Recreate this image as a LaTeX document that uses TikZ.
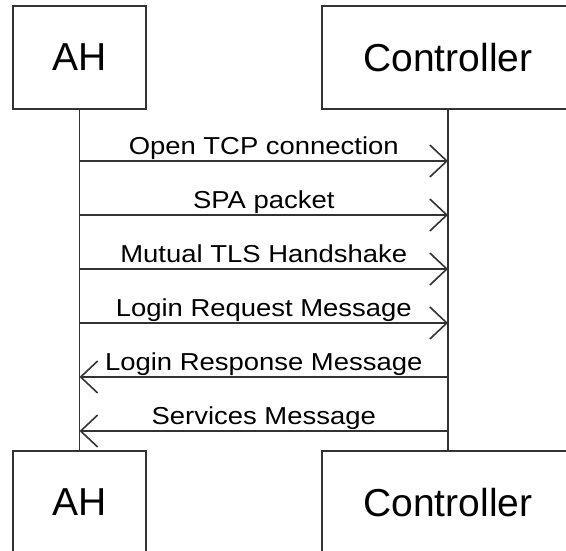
\documentclass[tikz,border=0pt]{standalone}
\usepackage{fontspec}
\setmainfont{Liberation Sans}
\newfontfamily\msgfont[FakeStretch=1.12]{Liberation Sans}
\usetikzlibrary{positioning}
\usetikzlibrary{arrows.meta}
\definecolor{linegrey}{HTML}{333333}
\tikzset{
    % An open barbed head, much like the one the chart tool draws
    >={Straight Barb[length=17pt, width=32pt]},
%
    % Box standing at either end of a lifeline
    actor box/.style={
        draw=linegrey, line width=1.6pt, rectangle,
        minimum height=103pt, font=\fontsize{39}{47}\selectfont},
%
    % Vertical line below an actor
    lifeline/.style={draw=linegrey, line width=1.6pt},
%
    % A single message passed between the two actors
    message/.style={draw=linegrey, line width=1.6pt, ->},
    % Text sitting just above a message
    message label/.style={anchor=base, inner sep=0pt, yshift=7pt,
        font=\msgfont\fontsize{24.5}{30}\selectfont}}

\begin{document}
\begin{tikzpicture}[x=1pt, y=-1pt]

\path [use as bounding box] (0,0) rectangle (566,550);
\clip (0,0) rectangle (566,550);

\node (ah) [actor box, minimum width=133pt] at (79.5,57.5) {AH};
\node (ctl) [actor box, minimum width=252pt] at (448,57.5) {Controller};
\node (ahend) [actor box, minimum width=133pt] at (79.5,502.5) {AH};
\node (ctlend) [actor box, minimum width=252pt] at (448,502.5) {Controller};

\draw [lifeline] (ah) -- (ahend);
\draw [lifeline] (ctl) -- (ctlend);

\coordinate (ah1) at (ah |- 0,161);
\coordinate (ah2) at (ah |- 0,215);
\coordinate (ah3) at (ah |- 0,269);
\coordinate (ah4) at (ah |- 0,323);
\coordinate (ah5) at (ah |- 0,377);
\coordinate (ah6) at (ah |- 0,431);
\coordinate (ctl1) at (ctl |- 0,161);
\coordinate (ctl2) at (ctl |- 0,215);
\coordinate (ctl3) at (ctl |- 0,269);
\coordinate (ctl4) at (ctl |- 0,323);
\coordinate (ctl5) at (ctl |- 0,377);
\coordinate (ctl6) at (ctl |- 0,431);

\draw [message] (ah1) -- node [message label] {Open TCP connection} (ctl1);
\draw [message] (ah2) -- node [message label] {SPA packet} (ctl2);
\draw [message] (ah3) -- node [message label] {Mutual TLS Handshake} (ctl3);
\draw [message] (ah4) -- node [message label] {Login Request Message} (ctl4);
\draw [message] (ctl5) -- node [message label] {Login Response Message} (ah5);
\draw [message] (ctl6) -- node [message label] {Services Message} (ah6);

\end{tikzpicture}
\end{document}
